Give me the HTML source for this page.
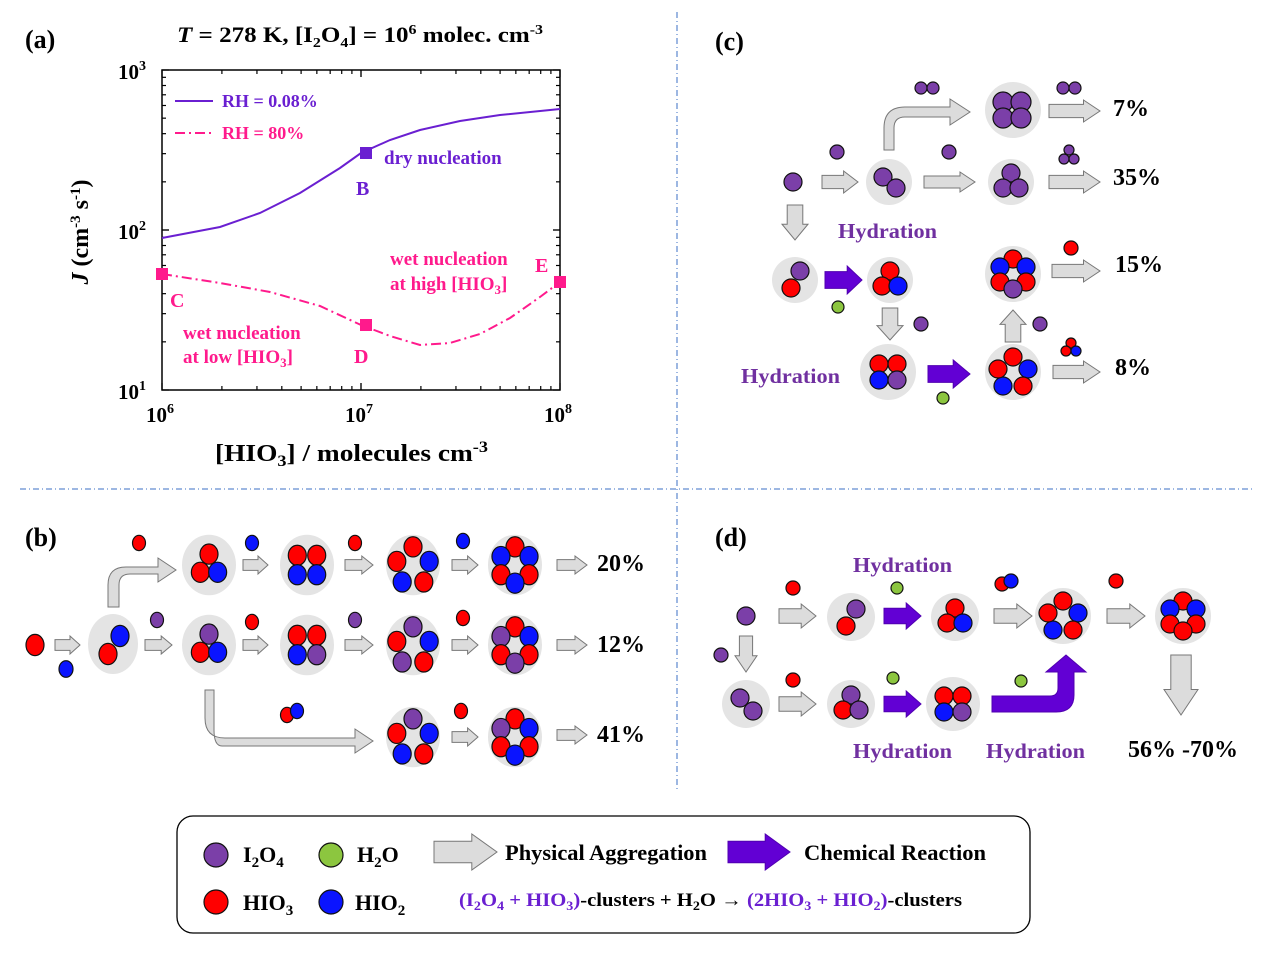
<!DOCTYPE html>
<html><head><meta charset="utf-8"><style>
html,body{margin:0;padding:0;background:#fff}
svg{display:block}
text{font-family:"Liberation Serif",serif;font-weight:bold}
</style></head><body>
<svg id="s" width="1268" height="954" viewBox="0 0 1268 954" xmlns="http://www.w3.org/2000/svg">
<line x1="677" y1="12" x2="677" y2="790" stroke="#3b6fc4" stroke-width="1" stroke-dasharray="6,3,1,3"/>
<line x1="20" y1="489" x2="1252" y2="489" stroke="#3b6fc4" stroke-width="1" stroke-dasharray="6,3,1,3"/>
<text x="25" y="48" font-size="26">(a)</text>
<text x="25" y="546" font-size="26">(b)</text>
<text x="715" y="50" font-size="26">(c)</text>
<text x="715" y="546" font-size="26">(d)</text>
<text x="177" y="42" font-size="22" textLength="366" lengthAdjust="spacingAndGlyphs"><tspan font-style="italic">T</tspan> = 278 K, [I<tspan font-size="14" dy="5">2</tspan><tspan dy="-5">O</tspan><tspan font-size="14" dy="5">4</tspan><tspan dy="-5">] = 10</tspan><tspan font-size="14" dy="-8">6</tspan><tspan dy="8"> molec. cm</tspan><tspan font-size="14" dy="-8">-3</tspan></text>
<rect x="162" y="70" width="398" height="320" fill="none" stroke="#000" stroke-width="1.5"/>
<g id="ticks" stroke="#000" stroke-width="1.2"></g>
<g font-size="21">
<text x="118" y="79">10<tspan font-size="14" dy="-9">3</tspan></text>
<text x="118" y="239">10<tspan font-size="14" dy="-9">2</tspan></text>
<text x="118" y="399">10<tspan font-size="14" dy="-9">1</tspan></text>
<text x="146" y="422">10<tspan font-size="14" dy="-9">6</tspan></text>
<text x="345" y="422">10<tspan font-size="14" dy="-9">7</tspan></text>
<text x="544" y="422">10<tspan font-size="14" dy="-9">8</tspan></text>
</g>
<text transform="translate(88,232) rotate(-90)" font-size="24" text-anchor="middle"><tspan font-style="italic">J</tspan> (cm<tspan font-size="15" dy="-8">-3</tspan><tspan dy="8"> s</tspan><tspan font-size="15" dy="-8">-1</tspan><tspan dy="8">)</tspan></text>
<text x="215" y="461" font-size="24" textLength="273" lengthAdjust="spacingAndGlyphs">[HIO<tspan font-size="16" dy="5">3</tspan><tspan dy="-5">] / molecules cm</tspan><tspan font-size="16" dy="-9">-3</tspan></text>
<polyline fill="none" stroke="#6a1fd1" stroke-width="2" points="162,238 220,227 260,213 300,193 340,168 361,153 390,140 420,130 460,121 500,115 560,109"/>
<polyline fill="none" stroke="#ff1a8c" stroke-width="2" stroke-dasharray="10,4,2,4" points="162,274 220,283 270,292 320,306 361,325 390,336 420,345 450,343 480,334 510,318 540,297 560,282"/>
<line x1="175" y1="101" x2="213" y2="101" stroke="#6a1fd1" stroke-width="2"/>
<line x1="175" y1="133" x2="213" y2="133" stroke="#ff1a8c" stroke-width="2" stroke-dasharray="10,4,2,4"/>
<text x="222" y="107" font-size="18" fill="#6a1fd1">RH = 0.08%</text>
<text x="222" y="139" font-size="18" fill="#ff1a8c">RH = 80%</text>
<rect x="360" y="147" width="12" height="12" fill="#6a1fd1"/>
<rect x="156" y="268" width="12" height="12" fill="#ff1a8c"/>
<rect x="360" y="319" width="12" height="12" fill="#ff1a8c"/>
<rect x="554" y="276" width="12" height="12" fill="#ff1a8c"/>
<text x="384" y="164" font-size="19" fill="#6a1fd1">dry nucleation</text>
<text x="356" y="195" font-size="20" fill="#6a1fd1">B</text>
<text x="170" y="307" font-size="20" fill="#ff1a8c">C</text>
<text x="354" y="363" font-size="20" fill="#ff1a8c">D</text>
<text x="535" y="272" font-size="20" fill="#ff1a8c">E</text>
<text x="390" y="265" font-size="19" fill="#ff1a8c">wet nucleation</text>
<text x="390" y="290" font-size="19" fill="#ff1a8c">at high [HIO<tspan font-size="13" dy="4">3</tspan><tspan dy="-4">]</tspan></text>
<text x="183" y="339" font-size="19" fill="#ff1a8c">wet nucleation</text>
<text x="183" y="363" font-size="19" fill="#ff1a8c">at low [HIO<tspan font-size="13" dy="4">3</tspan><tspan dy="-4">]</tspan></text>
<g id="g"></g>
<g font-size="21" fill="#7030a0">
<text x="838" y="238" textLength="99" lengthAdjust="spacingAndGlyphs">Hydration</text>
<text x="741" y="383" textLength="99" lengthAdjust="spacingAndGlyphs">Hydration</text>
<text x="853" y="572" textLength="99" lengthAdjust="spacingAndGlyphs">Hydration</text>
<text x="853" y="758" textLength="99" lengthAdjust="spacingAndGlyphs">Hydration</text>
<text x="986" y="758" textLength="99" lengthAdjust="spacingAndGlyphs">Hydration</text>
</g>
<g font-size="24">
<text x="1113" y="116">7%</text>
<text x="1113" y="185">35%</text>
<text x="1115" y="272">15%</text>
<text x="1115" y="375">8%</text>
<text x="597" y="571">20%</text>
<text x="597" y="652">12%</text>
<text x="597" y="742">41%</text>
<text x="1183" y="757" text-anchor="middle">56% -70%</text>
</g>
<rect x="177" y="816" width="853" height="117" rx="16" fill="none" stroke="#000" stroke-width="1.3"/>
<g font-size="22">
<text x="243" y="862">I<tspan font-size="15" dy="5">2</tspan><tspan dy="-5">O</tspan><tspan font-size="15" dy="5">4</tspan></text>
<text x="357" y="862">H<tspan font-size="15" dy="5">2</tspan><tspan dy="-5">O</tspan></text>
<text x="243" y="910">HIO<tspan font-size="15" dy="5">3</tspan></text>
<text x="355" y="910">HIO<tspan font-size="15" dy="5">2</tspan></text>
<text x="505" y="860" textLength="202" lengthAdjust="spacingAndGlyphs">Physical Aggregation</text>
<text x="804" y="860" textLength="182" lengthAdjust="spacingAndGlyphs">Chemical Reaction</text>
</g>
<text x="459" y="906" font-size="19" textLength="503" lengthAdjust="spacingAndGlyphs"><tspan fill="#6a1fd1">(I<tspan font-size="13" dy="4">2</tspan><tspan dy="-4">O</tspan><tspan font-size="13" dy="4">4</tspan><tspan dy="-4"> + HIO</tspan><tspan font-size="13" dy="4">3</tspan><tspan dy="-4">)</tspan></tspan>-clusters + H<tspan font-size="13" dy="4">2</tspan><tspan dy="-4">O → </tspan><tspan fill="#6a1fd1">(2HIO<tspan font-size="13" dy="4">3</tspan><tspan dy="-4"> + HIO</tspan><tspan font-size="13" dy="4">2</tspan><tspan dy="-4">)</tspan></tspan>-clusters</text>
</svg>
<script>
const NS="http://www.w3.org/2000/svg",G=document.getElementById('g');
function el(t,a,p){const e=document.createElementNS(NS,t);for(const k in a)e.setAttribute(k,a[k]);(p||G).appendChild(e);return e;}
const C={p:'#7b3fa8',r:'#ff0000',b:'#0a14ff',g:'#8cc63f'};
function atom(x,y,r,c,sy){el('ellipse',{cx:x,cy:y,rx:r,ry:r*(sy||1),fill:C[c],stroke:'#111','stroke-width':1.2});}
function bg(x,y,r,sy){el('ellipse',{cx:x,cy:y,rx:r,ry:r*(sy||1),fill:'#e4e4e4'});}
function arr(x1,x2,cy,h,pur){const w=x2-x1,hl=Math.min(w*0.4,h*0.75),sh=h*0.3;
el('path',{d:`M${x1},${cy-sh}H${x2-hl}V${cy-h/2}L${x2},${cy}L${x2-hl},${cy+h/2}V${cy+sh}H${x1}Z`,fill:pur?'#6200d4':'#dcdcdc',stroke:pur?'#5000b0':'#777','stroke-width':1});}
function darr(cx,y1,y2,w,up){const h=y2-y1,hl=Math.min(h*0.45,w*0.75),sh=w*0.3;
if(!up)el('path',{d:`M${cx-sh},${y1}V${y2-hl}H${cx-w/2}L${cx},${y2}L${cx+w/2},${y2-hl}H${cx+sh}V${y1}Z`,fill:'#dcdcdc',stroke:'#777'});
else el('path',{d:`M${cx-sh},${y2}V${y1+hl}H${cx-w/2}L${cx},${y1}L${cx+w/2},${y1+hl}H${cx+sh}V${y2}Z`,fill:'#dcdcdc',stroke:'#777'});}
function place(cx,cy,r,list,sy,k){sy=sy||1;k=k||1;list.forEach(a=>atom(cx+a[0]*k,cy+a[1]*sy*k,r,a[2],sy));}
function tri(cx,cy,r,c,sy,k){place(cx,cy,r,[[0,-9,c[0]],[-8,6,c[1]],[8,6,c[2]]],sy,k);}
function quad(cx,cy,r,c,sy,k){place(cx,cy,r,[[-9,-8,c[0]],[9,-8,c[1]],[-9,8,c[2]],[9,8,c[3]]],sy,k);}
function pent(cx,cy,r,c,sy,k){place(cx,cy,r,[[0,-15,c[0]],[15,-3,c[1]],[10,14,c[2]],[-10,14,c[3]],[-15,-3,c[4]]],sy,k);}
function hex(cx,cy,r,c,sy,k){place(cx,cy,r,[[0,-15,c[0]],[-13,-7,c[1]],[13,-7,c[2]],[-13,8,c[3]],[13,8,c[4]],[0,15,c[5]]],sy,k);}
const T=document.getElementById('ticks');
function ln(a,b,c,d){el('line',{x1:a,y1:b,x2:c,y2:d},T);}
for(let dec=0;dec<2;dec++)for(let m=1;m<=10;m++){const x=162+199*(dec+Math.log10(m));const L=(m==1||m==10)?7:4;ln(x,390,x,390-L);ln(x,70,x,70+L);
const y=390-160*(dec+Math.log10(m));ln(162,y,162+L,y);ln(560,y,560-L,y);}
// panel c
atom(793,182,9,'p');arr(822,858,182,22);atom(837,152,7,'p');
bg(889,182,23);atom(883,177,9,'p');atom(896,188,9,'p');
el('path',{d:'M884,150V128Q884,107 905,107H950V99L970,112L950,125V117H905Q894,117 894,128V150Z',fill:'#dcdcdc',stroke:'#777'});
atom(921,88,6,'p');atom(933,88,6,'p');
bg(1013,110,28);quad(1012,110,10,'pppp');arr(1049,1100,111,22);atom(1063,88,6,'p');atom(1075,88,6,'p');
atom(949,152,7,'p');arr(924,975,182,20);bg(1011,182,23);tri(1011,182,9,'ppp');
arr(1049,1100,182,22);atom(1069,150,5,'p');atom(1064,159,5,'p');atom(1074,159,5,'p');
darr(795,205,240,26);
bg(795,280,23);atom(800,271,9,'p');atom(791,288,9,'r');arr(825,862,280,28,1);atom(838,307,6,'g');
bg(890,280,23);tri(890,280,9,'rrb');
darr(890,308,340,26);atom(921,324,7,'p');
bg(888,372,28);quad(888,372,9,'rrbp');arr(928,970,374,28,1);atom(943,398,6,'g');
bg(1013,372,28);pent(1013,372,9,'rbrbr');
darr(1013,310,342,26,1);atom(1040,324,7,'p');
bg(1013,274,28);hex(1013,274,9,'rbbrrp');
atom(1071,248,7,'r');arr(1052,1100,271,22);
atom(1071,343,5,'r');atom(1066,351,5,'r');atom(1076,351,5,'b');arr(1053,1100,372,22);
// panel b
const S=1.18;
atom(35,645,9,'r',S);atom(66,669,7,'b',S);arr(55,80,645,18);
bg(113,644,25,1.2);atom(120,636,9,'b',S);atom(108,654,9,'r',S);
el('path',{d:'M108,607V585Q108,567 126,567H158V558L176,570L158,582V574H130Q119,574 119,585V607Z',fill:'#dcdcdc',stroke:'#777'});
el('path',{d:'M205,690V718Q205,738 225,738H355V729L373,741L355,753V746H222Q214,746 214,730V690Z',fill:'#dcdcdc',stroke:'#777'});
atom(139,543,6.5,'r',S);atom(252,543,6.5,'b',S);atom(355,543,6.5,'r',S);atom(463,541,6.5,'b',S);
atom(157,620,6.5,'p',S);atom(252,622,6.5,'r',S);atom(355,620,6.5,'p',S);atom(463,618,6.5,'r',S);
atom(287,715,6.5,'r',S);atom(297,711,6.5,'b',S);atom(461,711,6.5,'r',S);
arr(145,172,645,18);
[565,645].forEach(y=>{arr(243,268,y,18);arr(345,373,y,18);arr(452,478,y,18);arr(557,587,y,18);});
arr(452,478,737,18);arr(557,587,735,18);
[[209,565,'t','rrb'],[307,565,'q','rrbb'],[413,565,'p','rbrbr'],[515,565,'h','rbbrrb'],
 [209,645,'t','prb'],[307,645,'q','rrbp'],[413,645,'p','pbrpr'],[515,645,'h','rpbrrp'],
 [413,737,'p','pbrbr'],[515,737,'h','rpbrrb']].forEach(c=>{bg(c[0],c[1],27,1.12);
 const f={t:tri,q:quad,p:pent,h:hex}[c[2]];f(c[0],c[1],9,c[3],1.12,1.08);});
// panel d
atom(746,616,9,'p');arr(779,816,616,24);atom(793,588,7,'r');
bg(851,617,24);atom(856,609,9,'p');atom(846,626,9,'r');arr(884,921,616,26,1);atom(897,588,6,'g');
bg(955,617,24);tri(955,617,9,'rrb');
atom(1002,584,7,'r');atom(1011,581,7,'b');arr(994,1032,616,24);
bg(1063,616,28);pent(1063,616,9,'rbrbr');
atom(1116,581,7,'r');arr(1107,1145,616,24);
bg(1183,616,28);hex(1183,616,9,'rbbrrr');
darr(1181,655,715,34);
atom(721,655,7,'p');darr(746,636,672,22);
bg(746,704,24);atom(740,698,9,'p');atom(753,711,9,'p');arr(779,816,704,24);atom(793,680,7,'r');
bg(851,704,24);tri(851,704,9,'prp');arr(884,921,704,26,1);atom(893,678,6,'g');
bg(953,704,27);quad(953,704,9,'rrbp');
el('path',{d:'M992,696H1050Q1058,696 1058,688V672H1046L1066,655L1086,672H1074V695Q1074,712 1056,712H992Z',fill:'#6200d4',stroke:'#5000b0'});
atom(1021,681,6,'g');
atom(216,855,12,'p');atom(331,855,12,'g');atom(216,902,12,'r');atom(331,902,12,'b');
arr(434,497,852,36);arr(728,790,852,36,1);
</script>
</body></html>
